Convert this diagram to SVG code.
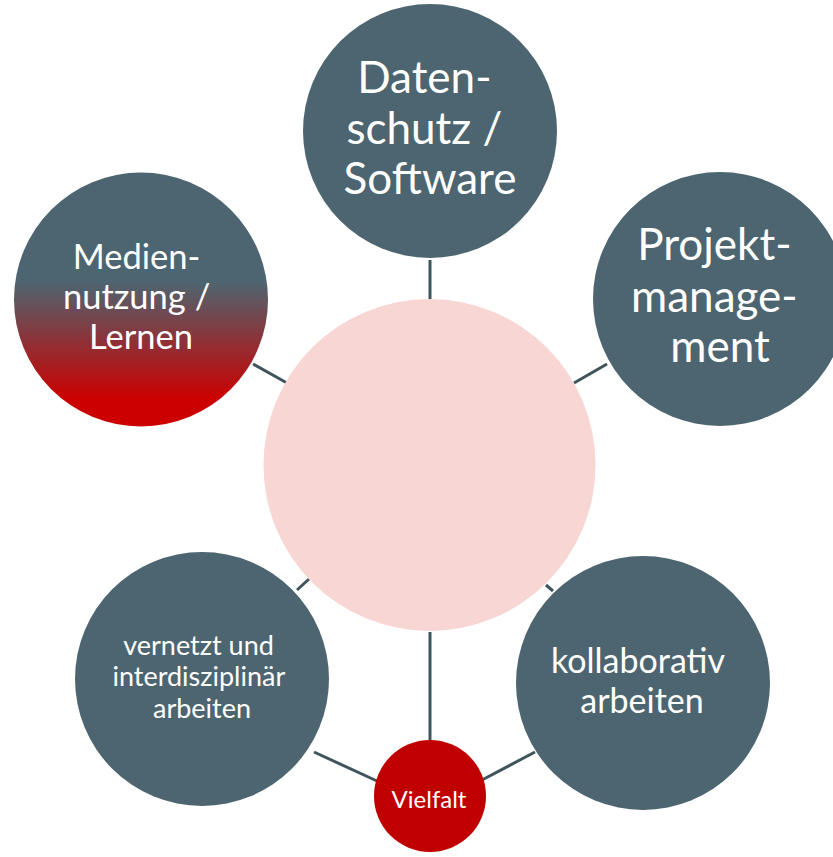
<svg xmlns="http://www.w3.org/2000/svg" width="833" height="857" viewBox="0 0 833 857">
  <style>
    .node { fill: #4D6570; }
    .hub { fill: #F7D6D4; }
    .accent { fill: #C00000; }
    .link { stroke: #3F545D; stroke-width: 3; fill: none; }
    .label { font-family: Lato, "Open Sans", sans-serif; fill: #FFFFFF; text-anchor: middle; }
  </style>
  <defs>
    <linearGradient id="mediaFill" gradientUnits="userSpaceOnUse" x1="0" y1="172" x2="0" y2="427">
      <stop offset="0.43" stop-color="#4D6570"/>
      <stop offset="0.89" stop-color="#CC0000"/>
    </linearGradient>
  </defs>

  <!-- connectors -->
  <g id="connectors">
    <line class="link" x1="430" y1="260" x2="430" y2="299"/>
    <line class="link" x1="253" y1="364" x2="287" y2="383"/>
    <line class="link" x1="574" y1="383" x2="607" y2="364"/>
    <line class="link" x1="297" y1="590" x2="309" y2="579"/>
    <line class="link" x1="546" y1="585" x2="553" y2="591"/>
    <line class="link" x1="430" y1="632" x2="430" y2="740"/>
    <line class="link" x1="314" y1="752" x2="377" y2="781"/>
    <line class="link" x1="482" y1="780" x2="535" y2="752"/>
  </g>

  <!-- centre -->
  <g id="hub">
    <circle class="hub" cx="429.5" cy="465" r="166"/>
  </g>

  <g id="datenschutz">
    <circle class="node" cx="430" cy="131" r="127"/>
    <text class="label" font-size="44">
      <tspan x="430" y="93">Daten-</tspan>
      <tspan x="430" y="144">schutz /</tspan>
      <tspan x="430" y="194">Software</tspan>
    </text>
  </g>

  <g id="projektmanagement">
    <circle class="node" cx="720" cy="299" r="127"/>
    <text class="label" font-size="44">
      <tspan x="720" y="260">Projekt-</tspan>
      <tspan x="720" y="312">manage-</tspan>
      <tspan x="720" y="362">ment</tspan>
    </text>
  </g>

  <g id="mediennutzung">
    <circle cx="141" cy="299.5" r="127" fill="url(#mediaFill)"/>
    <text class="label" font-size="34.5">
      <tspan x="141" y="268.5">Medien-</tspan>
      <tspan x="141" y="308.5">nutzung /</tspan>
      <tspan x="141" y="348.5">Lernen</tspan>
    </text>
  </g>

  <g id="vernetzt">
    <circle class="node" cx="202" cy="679" r="127"/>
    <text class="label" font-size="27">
      <tspan x="202" y="655">vernetzt und</tspan>
      <tspan x="202" y="686">interdisziplinär</tspan>
      <tspan x="202" y="718">arbeiten</tspan>
    </text>
  </g>

  <g id="kollaborativ">
    <circle class="node" cx="643" cy="683" r="127"/>
    <text class="label" font-size="34">
      <tspan x="642" y="673">kollaborativ</tspan>
      <tspan x="642" y="713">arbeiten</tspan>
    </text>
  </g>

  <g id="vielfalt">
    <circle class="accent" cx="430" cy="796" r="56"/>
    <text class="label" font-size="24" x="429" y="808">Vielfalt</text>
  </g>
</svg>
